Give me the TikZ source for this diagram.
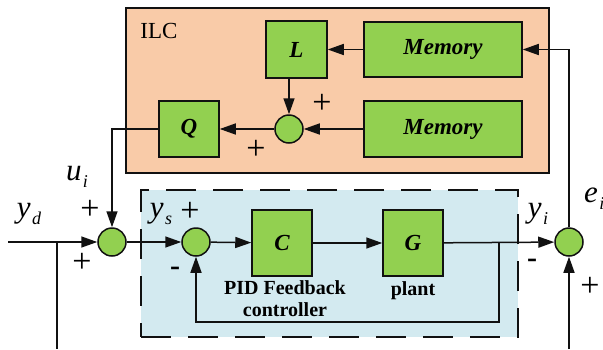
\documentclass[tikz,border=0pt]{standalone}
\usepackage{fontspec}
\setmainfont{Liberation Serif}
\usepackage{xcolor}
\usetikzlibrary{arrows.meta,positioning,calc,backgrounds}
\definecolor{ink}{HTML}{111111}
\definecolor{ilcfill}{HTML}{F9CBA8}
\definecolor{blkfill}{HTML}{92D050}
\definecolor{loopfill}{HTML}{D3EAF0}
\newcommand{\sigl}[2]{{\itshape #1\kern1.5pt\raisebox{-7pt}{\fontsize{18}{18}\selectfont #2}}}

\begin{document}
\begin{tikzpicture}[x=1pt,y=-1pt,
  blk/.style={draw=ink,fill=blkfill,line width=1.5pt,inner sep=0pt,
              font=\fontsize{23}{24}\selectfont\bfseries\itshape},
  sumc/.style={circle,draw=ink,fill=blkfill,line width=1.5pt,minimum size=28pt,inner sep=0pt},
  flow/.style={-{Triangle[length=16pt,width=11pt]},line width=1.5pt,color=ink},
  wire/.style={line width=1.5pt,color=ink},
  sgn/.style={font=\fontsize{34}{34}\selectfont,inner sep=0pt},
  msgn/.style={font=\fontsize{30}{30}\selectfont\bfseries,inner sep=0pt},
  lbl/.style={font=\fontsize{31}{31}\selectfont,inner sep=0pt},
  captxt/.style={font=\fontsize{20}{22}\selectfont\bfseries,align=center,inner sep=0pt}]
  \useasboundingbox (0,0) rectangle (603,349);
  % ILC part and inner loop area
  \node[draw=ink,fill=ilcfill,line width=1.5pt,minimum width=423pt,minimum height=165pt]
       (ilc) at (337.5,90.5) {};
  \node[font=\fontsize{23}{23}\selectfont,inner sep=0pt] (ilct) at (159,31) {ILC};
  \node[draw=ink,fill=loopfill,line width=1.8pt,dash pattern=on 30pt off 17pt,
        minimum width=377pt,minimum height=147pt] (loop) at (329.5,263.5) {};
  % blocks
  \node[blk,minimum width=61pt,minimum height=57pt] (L) at (296.5,49.5) {L};
  \node[blk,minimum width=158pt,minimum height=55pt] (mtop) at (443,49.5) {Memory};
  \node[blk,minimum width=158pt,minimum height=56pt] (mbot) at (443,129) {Memory};
  \node[blk,minimum width=60pt,minimum height=56pt] (Q) at (189,129) {Q};
  \node[sumc] (si) at (289,129) {};
  \node[blk,minimum width=60pt,minimum height=66pt] (C) at (282,243) {C};
  \node[blk,minimum width=60pt,minimum height=66pt] (G) at (413,243) {G};
  \node[sumc] (s1) at (112,242) {};
  \node[sumc] (s2) at (196,242) {};
  \node[sumc] (s3) at (569,242) {};
  \node[captxt] (pid) at (285,299) {PID Feedback\\controller};
  \node[captxt] (plt) at (413,291) {plant};
  % free ends
  \coordinate (yd) at (8,242);
  \coordinate (br) at (57,242);
  \coordinate (brend) at (57,349);
  \coordinate (fb) at (499,242);
  \coordinate (fbd) at (499,322);
  \coordinate (ein) at (569,349);
  % connectors
  \draw[flow] (yd) -- (s1);
  \draw[wire] (br) -- (brend);
  \draw[flow] (s1) -- (s2);
  \draw[flow] (s2) -- (C);
  \draw[flow] (C) -- (G);
  \draw[flow] (G) -- (s3);
  \draw[flow] (fb) -- (fbd) -| (s2);
  \draw[flow] (ein) -- (s3);
  \draw[flow] (s3) |- (mtop);
  \draw[flow] (mtop) -- (L);
  \draw[flow] (mbot) -- (si);
  \draw[flow] (L.south -| si) -- (si);
  \draw[flow] (si) -- (Q);
  \draw[flow] (Q) -| (s1);
  % signs and signals
  \node[sgn] (pa) at (322,104) {+};
  \node[sgn] (pb) at (256,150) {+};
  \node[sgn] (pc) at (90,210) {+};
  \node[sgn] (pd) at (82,263) {+};
  \node[sgn] (pe) at (190,212) {+};
  \node[msgn] (ma) at (175,271) {-};
  \node[msgn] (mb) at (532,263) {-};
  \node[sgn] (pf) at (590,287) {+};
  \node[lbl] (lyd) at (29,214) {\sigl{y}{d}};
  \node[lbl] (lui) at (77,177) {\sigl{u}{i}};
  \node[lbl] (lys) at (161,214) {\sigl{y}{s}};
  \node[lbl] (lyi) at (538,214) {\sigl{y}{i}};
  \node[lbl,anchor=west] (lei) at (584,199) {\sigl{e}{i}};
\end{tikzpicture}
\end{document}
